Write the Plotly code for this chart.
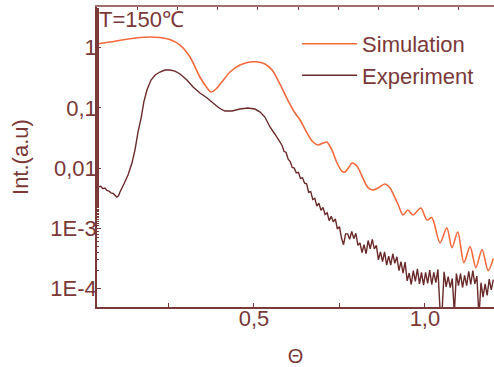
import numpy as np
import plotly.graph_objects as go

# ---- data (intensities stored as log10 values) ----
sim_x = [0.041, 0.079, 0.123, 0.167, 0.196, 0.225, 0.254, 0.284, 0.313, 0.342,
         0.363, 0.374, 0.389, 0.406, 0.430, 0.459, 0.488, 0.512, 0.532, 0.553,
         0.576, 0.599, 0.620, 0.635, 0.652, 0.670, 0.687, 0.702, 0.713, 0.728,
         0.743, 0.757, 0.766, 0.778, 0.787, 0.801, 0.816, 0.830, 0.839, 0.848,
         0.863, 0.883, 0.898, 0.906, 0.921, 0.936, 0.950, 0.965, 0.988, 1.006,
         1.020, 1.044, 1.064, 1.079, 1.096, 1.114, 1.132, 1.149, 1.167, 1.185, 1.200]
sim_log10 = [0.058, 0.091, 0.133, 0.166, 0.174, 0.166, 0.133, 0.041, -0.158, -0.489,
             -0.672, -0.738, -0.688, -0.572, -0.406, -0.290, -0.240, -0.240, -0.274, -0.373,
             -0.605, -0.871, -1.086, -1.202, -1.385, -1.551, -1.617, -1.584, -1.567, -1.700,
             -1.915, -2.048, -2.065, -1.982, -1.915, -1.965, -2.131, -2.297, -2.347, -2.363,
             -2.330, -2.264, -2.330, -2.413, -2.595, -2.778, -2.695, -2.778, -2.662, -2.861,
             -2.82, -3.24, -2.99, -3.32, -3.06, -3.57, -3.30, -3.65, -3.35, -3.70, -3.50]

exp_x = [0.041, 0.046, 0.052, 0.058, 0.064, 0.070, 0.076, 0.082, 0.088, 0.094,
         0.099, 0.104, 0.108, 0.120, 0.132, 0.143, 0.152, 0.161, 0.170, 0.178,
         0.187, 0.199, 0.211, 0.225, 0.240, 0.254, 0.269, 0.284, 0.304, 0.322,
         0.342, 0.363, 0.380, 0.398, 0.415, 0.436, 0.459, 0.482, 0.503, 0.518,
         0.532, 0.547, 0.561,
         0.576, 0.582, 0.588, 0.594, 0.600, 0.606, 0.612, 0.618, 0.624, 0.630,
         0.636, 0.642, 0.648, 0.654, 0.660, 0.666, 0.672, 0.678, 0.684, 0.690,
         0.696, 0.702, 0.708, 0.714, 0.720, 0.726, 0.732, 0.738, 0.744, 0.750,
         0.756, 0.762, 0.768, 0.774, 0.780, 0.786, 0.792, 0.798, 0.804, 0.810,
         0.816, 0.822, 0.828, 0.834, 0.840, 0.846, 0.852, 0.858, 0.864, 0.870,
         0.876, 0.882, 0.888, 0.894, 0.900, 0.906, 0.912, 0.918, 0.924, 0.930,
         0.936, 0.942, 0.948, 0.954, 0.960, 0.966, 0.972, 0.978, 0.984, 0.990,
         0.996, 1.002, 1.008, 1.014, 1.020, 1.026, 1.032, 1.038, 1.044, 1.050,
         1.056, 1.062, 1.068, 1.074, 1.080, 1.086, 1.092, 1.098, 1.104, 1.110,
         1.116, 1.122, 1.128, 1.134, 1.140, 1.146, 1.152, 1.158, 1.164, 1.170,
         1.176, 1.182, 1.188, 1.194, 1.200]
exp_log10 = [-2.28, -2.31, -2.30, -2.34, -2.33, -2.37, -2.38, -2.41, -2.42, -2.45,
             -2.48, -2.46, -2.40, -2.26, -2.11, -1.92, -1.70, -1.40, -1.17, -0.90,
             -0.705, -0.539, -0.456, -0.406, -0.373, -0.373, -0.390, -0.439, -0.539, -0.655,
             -0.755, -0.837, -0.920, -1.003, -1.053, -1.053, -1.020, -1.003, -1.020, -1.070,
             -1.153, -1.318, -1.434,
             -1.58, -1.62, -1.72, -1.74, -1.85, -1.89, -1.99, -2.00, -2.08, -2.07,
             -2.17, -2.16, -2.25, -2.26, -2.40, -2.39, -2.52, -2.50, -2.63, -2.58,
             -2.70, -2.65, -2.77, -2.74, -2.87, -2.80, -2.89, -2.84, -3.01, -2.97,
             -3.16, -3.27, -3.09, -3.09, -3.18, -3.05, -3.17, -3.08, -3.28, -3.24,
             -3.40, -3.27, -3.42, -3.20, -3.34, -3.18, -3.34, -3.28, -3.52, -3.39,
             -3.55, -3.39, -3.61, -3.46, -3.61, -3.42, -3.58, -3.47, -3.70, -3.55,
             -3.74, -3.56, -3.87, -3.74, -3.93, -3.70, -3.88, -3.67, -3.92, -3.73,
             -3.94, -3.73, -3.91, -3.69, -3.93, -3.73, -3.90, -3.68, -4.32, -4.40,
             -3.72, -3.97, -3.80, -3.98, -3.83, -4.40, -3.75, -3.95, -3.75, -3.98,
             -3.78, -3.95, -3.71, -3.93, -3.70, -3.92, -3.79, -4.47, -3.90, -4.14,
             -3.92, -4.11, -3.84, -4.02, -3.85]

y_tickvals = [1, 0.1, 0.01, 0.001, 0.0001]
y_ticktext = ["1", "0,1", "0,01", "1E-3", "1E-4"]
x_tickvals = [0.25, 0.5, 0.75, 1.0]
x_ticktext = ["", "0,5", "", "1,0"]
top_tick0, top_dtick = 0.1608, 0.117

TXT = "#7a3838"
AX = "#7a3a3a"
ORANGE = "#f56a3c"
BROWN = "#6a2a2a"
FONT = "Liberation Sans, Arial, sans-serif"

fig = go.Figure()
fig.add_trace(go.Scatter(x=sim_x, y=10 ** np.array(sim_log10), mode="lines",
                         name="Simulation", line=dict(color=ORANGE, width=1.6, shape="spline", smoothing=0.8)))
fig.add_trace(go.Scatter(x=exp_x, y=10 ** np.array(exp_log10), mode="lines",
                         name="Experiment", line=dict(color=BROWN, width=1.4)))
fig.add_trace(go.Scatter(x=[], y=[], xaxis="x2", showlegend=False))

fig.update_layout(
    width=494, height=367,
    margin=dict(l=97, r=0, t=7, b=60, autoexpand=False),
    paper_bgcolor="white", plot_bgcolor="white",
    font=dict(family=FONT, size=22, color=TXT),
    showlegend=True,
    legend=dict(x=0.504, y=0.947, xanchor="left", yanchor="top", bgcolor="rgba(0,0,0,0)",
                font=dict(size=22, color=TXT), itemwidth=55, tracegroupgap=0),
    xaxis=dict(range=[0.041, 1.202], showline=True, linecolor=AX, linewidth=1.5, automargin=False,
               ticks="inside", ticklen=4, tickcolor=AX, tickvals=x_tickvals, ticktext=x_ticktext,
               ticklabelstandoff=-9,
               showgrid=False, zeroline=False, title=dict(text="Θ", font=dict(size=20), standoff=20)),
    xaxis2=dict(range=[0.041, 1.202], overlaying="x", side="top", anchor="y", showline=True,
                linecolor="#a07070", linewidth=1.5, ticks="inside", ticklen=3, tickcolor=AX,
                tick0=top_tick0, dtick=top_dtick, showticklabels=False, showgrid=False, zeroline=False),
    yaxis=dict(type="log", range=[-4.303, 0.672], showline=True, linecolor=AX, linewidth=1.5, automargin=False,
               ticks="inside", ticklen=4, tickcolor=AX, tickvals=y_tickvals, ticktext=y_ticktext,
               ticklabelstandoff=-6,
               minor=dict(ticks="inside", ticklen=2, tickcolor=AX),
               showgrid=False, zeroline=False),
    annotations=[
        dict(text="T=150℃", xref="paper", yref="paper", x=0.0, y=1.0,
             xanchor="left", yanchor="top", showarrow=False, xshift=0, yshift=2,
             font=dict(size=22, color=TXT)),
        dict(text="Int.(a.u)", xref="paper", yref="paper", x=-0.194, y=0.5,
             xanchor="center", yanchor="middle", textangle=-90, showarrow=False,
             font=dict(size=22, color=TXT)),
    ],
)

fig.write_html("out.html")
